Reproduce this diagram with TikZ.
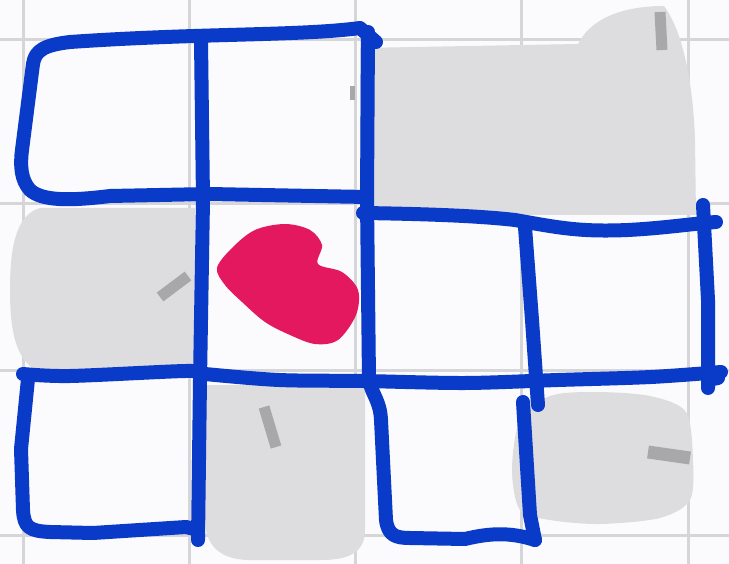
\documentclass[tikz,border=0pt]{standalone}
\usepackage{xcolor}
\definecolor{inkblue}{HTML}{0A3AC8}
\definecolor{blotred}{HTML}{E3185E}
\definecolor{paper}{HTML}{FBFAFC}
\definecolor{gridgray}{HTML}{D6D6D9}
\definecolor{fillgray}{HTML}{DDDCDF}
\definecolor{markgray}{HTML}{A8A8AA}
\usepackage{tikz}
\tikzset{
  gridln/.style={draw=gridgray,line width=3pt},
  pen/.style={draw=inkblue,line width=14pt,line cap=round,line join=round},
  shd/.style={fill=fillgray},
  smd/.style={draw=markgray,line width=11pt},
  blt/.style={fill=blotred},
}
\begin{document}
\begin{tikzpicture}[x=1pt,y=-1pt]
\useasboundingbox (0,0) rectangle (729,564);
\clip (0,0) rectangle (729,564);
\fill[paper] (0,0) rectangle (729,564);
\draw[gridln] (23,0)--(23,564); \draw[gridln] (189,0)--(189,564); \draw[gridln] (355,0)--(355,564); \draw[gridln] (521,0)--(521,564); \draw[gridln] (688,0)--(688,564);
\draw[gridln] (0,40)--(729,40); \draw[gridln] (0,204)--(729,204); \draw[gridln] (0,371)--(729,371); \draw[gridln] (0,535)--(729,535);
\fill[shd] (360,48) -- (578,44) .. controls (590,20) and (620,6) .. (664,6) .. controls (682,30) and (693,80) .. (695,140) -- (696,215) -- (360,215) -- cycle;
\fill[shd] (40,208) -- (195,208) -- (195,375) -- (45,375) .. controls (15,365) and (10,330) .. (10,290) .. controls (10,250) and (15,215) .. (40,208) -- cycle;
\fill[shd] (205,385) -- (365,385) -- (365,530) .. controls (365,555) and (345,560) .. (320,560) -- (250,560) .. controls (220,560) and (205,545) .. (205,520) -- cycle;
\fill[shd] plot[smooth cycle] coordinates {(520,420) (550,396) (595,392) (650,396) (686,412) (693,460) (690,500) (660,518) (600,524) (550,520) (520,510) (512,470)};
\draw[smd] (660,12)--(662,50); \draw[smd,line width=5pt] (352,86)--(352,100); \draw[smd] (160,297)--(188,276); \draw[smd] (264,407)--(276,447); \draw[smd,line width=13pt] (648,452)--(690,458);
\fill[blt] plot[smooth cycle,tension=0.55] coordinates {(217,268) (232,248) (255,230) (285,224) (310,230) (322,245) (318,264) (342,272) (358,290) (356,315) (338,340) (315,344) (290,335) (265,322) (242,302) (225,285)};
\draw[pen] (367,197) -- (209,194) -- (110,196) .. controls (70,201) and (42,201) .. (30,190) .. controls (21,180) and (20,166) .. (22,150) -- (33,64) .. controls (35,50) and (45,45) .. (70,42) .. controls (200,33) and (300,36) .. (360,28) -- (376,42);
\draw[pen] (201,40) -- (203,200) -- (200,380) -- (198,540);
\draw[pen] (368,32) -- (367,200) -- (369,380) .. controls (372,395) and (380,400) .. (381,420) -- (386,520) .. controls (388,535) and (395,538) .. (410,538) -- (465,539) .. controls (490,533) and (510,532) .. (535,540);
\draw[pen] (523,402) -- (530,515) -- (535,540);
\draw[pen] (363,213) .. controls (430,214) and (480,216) .. (515,220) .. controls (560,228) and (580,232) .. (628,230) .. controls (665,228) and (690,224) .. (716,222);
\draw[pen] (703,205) -- (708,300) -- (708,388); \draw[pen] (708,380) -- (718,378);
\draw[pen] (525,227) -- (532,320) -- (538,405);
\draw[pen] plot[smooth] coordinates {(23,374) (70,376) (186,371) (205,374) (279,380) (363,381) (465,383) (558,380) (651,377) (721,372)};
\draw[pen] (28,379) -- (21,449) -- (23,510) .. controls (24,528) and (30,531) .. (50,532) -- (93,533) -- (186,527) -- (198,530);
\end{tikzpicture}
\end{document}
